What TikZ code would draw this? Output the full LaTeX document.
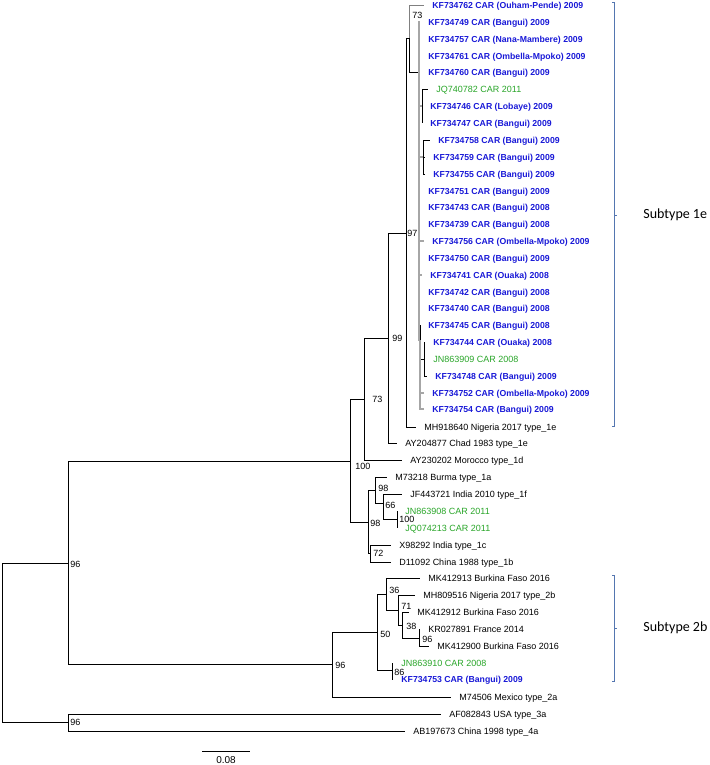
\documentclass[tikz,border=0pt]{standalone}
\usepackage{fontspec}
\setmainfont{Liberation Sans}
\newfontfamily\subfont{Carlito}
\definecolor{carblue}{RGB}{25,25,215}
\definecolor{cargreen}{RGB}{40,165,40}
\definecolor{brk}{RGB}{84,118,176}

\begin{document}
\begin{tikzpicture}[x=1pt,y=-1pt,line width=.8pt,
  lf/.style={anchor=west,inner xsep=8pt,inner ysep=0pt,text height=6.5pt,text depth=0pt,font=\fontsize{9}{10}\selectfont},
  lb/.style={lf,text=carblue,font=\fontsize{8.7}{10}\selectfont\bfseries},
  lg/.style={lf,text=cargreen},
  bs/.style={anchor=west,inner sep=0pt,font=\fontsize{9}{10}\selectfont},
  gr/.style={draw=gray!70,line width=1.3pt},
  bk/.style={draw=brk,line width=.8pt},
  sub/.style={anchor=west,inner sep=0pt,font=\subfont\fontsize{14}{16}\selectfont}]
\useasboundingbox (0,0) rectangle (709,765);

\node[lb] (kf762) at (424,5) {KF734762 CAR (Ouham-Pende) 2009};
\node[lb] (kf749) at (420,22) {KF734749 CAR (Bangui) 2009};
\node[lb] (kf757) at (420,39) {KF734757 CAR (Nana-Mambere) 2009};
\node[lb] (kf761) at (420,56) {KF734761 CAR (Ombella-Mpoko) 2009};
\node[lb] (kf760) at (420,72) {KF734760 CAR (Bangui) 2009};
\node[lg] (jq782) at (428,89) {JQ740782 CAR 2011};
\node[lb] (kf746) at (422,106) {KF734746 CAR (Lobaye) 2009};
\node[lb] (kf747) at (422,123) {KF734747 CAR (Bangui) 2009};
\node[lb] (kf758) at (430,140) {KF734758 CAR (Bangui) 2009};
\node[lb] (kf759) at (425,157) {KF734759 CAR (Bangui) 2009};
\node[lb] (kf755) at (425,174) {KF734755 CAR (Bangui) 2009};
\node[lb] (kf751) at (420,191) {KF734751 CAR (Bangui) 2009};
\node[lb] (kf743) at (420,207) {KF734743 CAR (Bangui) 2008};
\node[lb] (kf739) at (420,224) {KF734739 CAR (Bangui) 2008};
\node[lb] (kf756) at (424,241) {KF734756 CAR (Ombella-Mpoko) 2009};
\node[lb] (kf750) at (420,258) {KF734750 CAR (Bangui) 2009};
\node[lb] (kf741) at (422,275) {KF734741 CAR (Ouaka) 2008};
\node[lb] (kf742) at (420,292) {KF734742 CAR (Bangui) 2008};
\node[lb] (kf740) at (420,308) {KF734740 CAR (Bangui) 2008};
\node[lb] (kf745) at (420,325) {KF734745 CAR (Bangui) 2008};
\node[lb] (kf744) at (425,342) {KF734744 CAR (Ouaka) 2008};
\node[lg] (jn909) at (425,359) {JN863909 CAR 2008};
\node[lb] (kf748) at (427,376) {KF734748 CAR (Bangui) 2009};
\node[lb] (kf752) at (424,393) {KF734752 CAR (Ombella-Mpoko) 2009};
\node[lb] (kf754) at (424,409) {KF734754 CAR (Bangui) 2009};
\node[lf] (mh640) at (416,427) {MH918640 Nigeria 2017 type\_1e};
\node[lf] (ay877) at (397,443) {AY204877 Chad 1983 type\_1e};
\node[lf] (ay202) at (402,460) {AY230202 Morocco type\_1d};
\node[lf] (m218) at (387,477) {M73218 Burma type\_1a};
\node[lf] (jf721) at (402,494) {JF443721 India 2010 type\_1f};
\node[lg] (jn908) at (397,511) {JN863908 CAR 2011};
\node[lg] (jq213) at (397,528) {JQ074213 CAR 2011};
\node[lf] (x292) at (391,545) {X98292 India type\_1c};
\node[lf] (d092) at (391,562) {D11092 China 1988 type\_1b};
\node[lf] (mk913) at (420,578) {MK412913 Burkina Faso 2016};
\node[lf] (mh516) at (415,595) {MH809516 Nigeria 2017 type\_2b};
\node[lf] (mk912) at (409,612) {MK412912 Burkina Faso 2016};
\node[lf] (kr891) at (420,629) {KR027891 France 2014};
\node[lf] (mk900) at (429,646) {MK412900 Burkina Faso 2016};
\node[lg] (jn910) at (393,663) {JN863910 CAR 2008};
\node[lb] (kf753) at (393,679) {KF734753 CAR (Bangui) 2009};
\node[lf] (m506) at (451,697) {M74506 Mexico type\_2a};
\node[lf] (af843) at (441,714) {AF082843 USA type\_3a};
\node[lf] (ab673) at (405,731) {AB197673 China 1998 type\_4a};

\coordinate (r) at (2,643);
\coordinate (nA) at (68,563);
\coordinate (nC) at (68,722);
\coordinate (n100) at (350,461);
\coordinate (n73) at (364,399);
\coordinate (n99) at (388,338);
\coordinate (n97) at (406,233);
\coordinate (n73a) at (409,38);
\coordinate (M) at (419,72);
\coordinate (J) at (422,106);
\coordinate (K) at (423,157);
\coordinate (Q) at (420,340);
\coordinate (R) at (424,359);
\coordinate (n98b) at (368,522);
\coordinate (n98a) at (375,490);
\coordinate (n66) at (383,503);
\coordinate (n100b) at (397,519);
\coordinate (n72) at (370,553);
\coordinate (nB) at (332,664);
\coordinate (n50) at (377,632);
\coordinate (n36) at (386,594);
\coordinate (n71) at (398,610);
\coordinate (n38) at (402,625);
\coordinate (n96c) at (419,638);
\coordinate (n86) at (392,670);

\draw (r) |- (nA) (r) |- (nC);
\draw (nA) |- (n100) (nA) |- (nB);
\draw (nC) |- (af843.west) (nC) |- (ab673.west);
\draw (n100) |- (n73) (n100) |- (n98b);
\draw (n73) |- (n99) (n73) |- (ay202.west);
\draw (n99) |- (n97) (n99) |- (ay877.west);
\draw (n97) |- (n73a) (n97) |- (mh640.west);
\draw (n73a) |- (M);
\draw[draw=gray] (n73a) |- (kf762.west);
\draw[gr] (M) |- (kf749.west) (M) |- (kf757.west) (M) |- (kf761.west) (M) |- (kf760.west);
\draw[gr] (M) |- (J) (M) |- (K) (M) |- (Q);
\draw[gr] (M) |- (kf751.west) (M) |- (kf743.west) (M) |- (kf739.west) (M) |- (kf756.west);
\draw[gr] (M) |- (kf750.west) (M) |- (kf741.west) (M) |- (kf742.west) (M) |- (kf740.west);
\draw (J) |- (jq782.west) (J) |- (kf746.west) (J) |- (kf747.west);
\draw (K) |- (kf758.west) (K) |- (kf759.west) (K) |- (kf755.west);
\draw (Q) |- (kf745.west) (Q) |- (R);
\draw[gr] (Q) |- (kf752.west) (Q) |- (kf754.west);
\draw (R) |- (kf744.west) (R) |- (jn909.west) (R) |- (kf748.west);
\draw (n98b) |- (n98a) (n98b) |- (n72);
\draw (n98a) |- (m218.west) (n98a) |- (n66);
\draw (n66) |- (jf721.west) (n66) |- (n100b);
\draw (n100b) |- (jn908.west) (n100b) |- (jq213.west);
\draw (n72) |- (x292.west) (n72) |- (d092.west);
\draw (nB) |- (n50) (nB) |- (m506.west);
\draw (n50) |- (n36) (n50) |- (n86);
\draw (n36) |- (mk913.west) (n36) |- (n71);
\draw (n71) |- (mh516.west) (n71) |- (n38);
\draw (n38) |- (mk912.west) (n38) |- (n96c);
\draw (n96c) |- (kr891.west) (n96c) |- (mk900.west);
\draw (n86) |- (jn910.west) (n86) |- (kf753.west);

\node[bs] (b73a) at (412,15) {73};
\node[bs] (b97) at (407,233) {97};
\node[bs] (b99) at (392,338) {99};
\node[bs] (b73) at (372,399) {73};
\node[bs] (b100) at (355,466) {100};
\node[bs] (b98a) at (378,488) {98};
\node[bs] (b66) at (385,505) {66};
\node[bs] (b100b) at (399,519) {100};
\node[bs] (b98b) at (370,523) {98};
\node[bs] (b72) at (373,553) {72};
\node[bs] (b96a) at (70,564) {96};
\node[bs] (b96b) at (335,665) {96};
\node[bs] (b50) at (380,634) {50};
\node[bs] (b36) at (389,590) {36};
\node[bs] (b71) at (401,606) {71};
\node[bs] (b38) at (406,626) {38};
\node[bs] (b96c) at (422,639) {96};
\node[bs] (b86) at (394,672) {86};
\node[bs] (b96d) at (70,722) {96};

\coordinate (sb1) at (202,751);
\coordinate (sb2) at (250,751);
\draw (sb1) -- (sb2);
\node[font=\fontsize{10}{11}\selectfont,inner sep=0pt] (sbl) at (226,760) {0.08};

\draw[bk] (612,2) -- (614,2) -- (614,426) -- (612,426);
\draw[bk] (614,215) -- (617,215);
\node[sub] (s1e) at (643,215) {Subtype 1e};
\draw[bk] (612,575) -- (614,575) -- (614,681) -- (612,681);
\draw[bk] (614,628) -- (617,628);
\node[sub] (s2b) at (643,628) {Subtype 2b};
\end{tikzpicture}
\end{document}
